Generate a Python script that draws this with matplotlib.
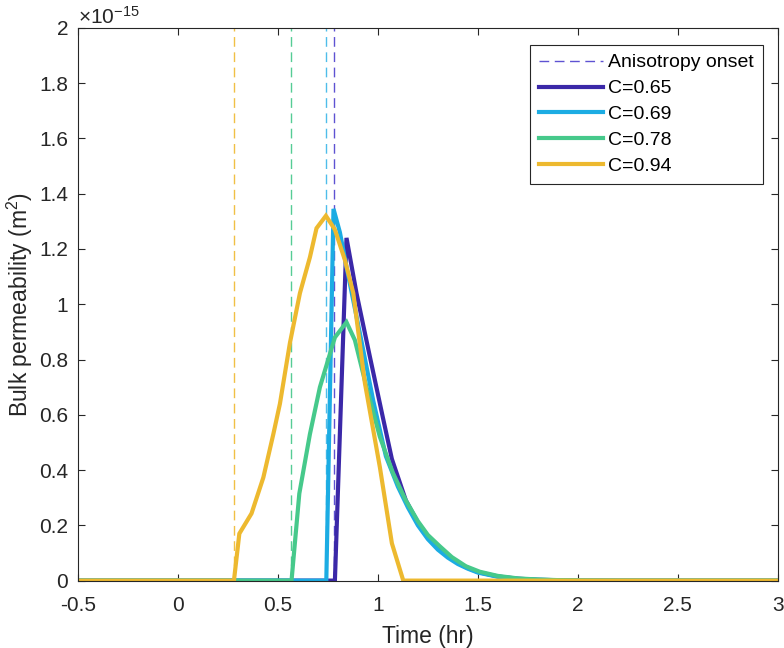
import matplotlib
matplotlib.use('Agg')
import matplotlib.pyplot as plt
import numpy as np

plt.rcParams['font.family'] = ['Liberation Sans', 'DejaVu Sans']
plt.rcParams['mathtext.default'] = 'regular'
plt.rcParams['font.size'] = 15

# permeability in units of 1e-15 m^2, time in hr
t_065 = [-0.5, 0.785, 0.843, 0.893, 0.96, 1.025, 1.07, 1.14, 1.2, 1.25, 1.3, 1.35, 1.4, 1.45, 1.5, 1.6, 1.7, 1.8, 1.9, 2.0, 2.2, 3.0]
k_065 = [0, 0, 1.24, 1.04, 0.81, 0.59, 0.44, 0.29, 0.21, 0.16, 0.122, 0.09, 0.064, 0.046, 0.031, 0.015, 0.007, 0.003, 0.0015, 0.0005, 0, 0]

t_069 = [-0.5, 0.742, 0.778, 0.81, 0.843, 0.91, 0.977, 1.04, 1.1, 1.15, 1.2, 1.25, 1.3, 1.35, 1.4, 1.45, 1.5, 1.6, 1.7, 1.8, 1.9, 2.0, 2.2, 3.0]
k_069 = [0, 0, 1.345, 1.26, 1.135, 0.895, 0.65, 0.45, 0.34, 0.265, 0.2, 0.15, 0.112, 0.083, 0.06, 0.043, 0.029, 0.014, 0.006, 0.003, 0.0012, 0.0005, 0, 0]

t_078 = [-0.5, 0.568, 0.607, 0.66, 0.71, 0.785, 0.843, 0.885, 0.943, 1.01, 1.075, 1.14, 1.2, 1.25, 1.31, 1.37, 1.44, 1.51, 1.6, 1.7, 1.8, 1.9, 2.0, 2.2, 3.0]
k_078 = [0, 0, 0.315, 0.53, 0.70, 0.88, 0.935, 0.87, 0.70, 0.52, 0.39, 0.29, 0.215, 0.165, 0.124, 0.085, 0.052, 0.032, 0.017, 0.008, 0.004, 0.0018, 0.0007, 0, 0]

t_094 = [-0.5, 0.28, 0.307, 0.368, 0.427, 0.477, 0.51, 0.56, 0.61, 0.66, 0.693, 0.74, 0.785, 0.835, 0.877, 0.935, 1.01, 1.07, 1.127, 3.0]
k_094 = [0, 0, 0.17, 0.243, 0.373, 0.53, 0.64, 0.86, 1.04, 1.17, 1.275, 1.32, 1.27, 1.16, 1.04, 0.715, 0.41, 0.135, 0, 0]

onsets = [0.782, 0.74, 0.567, 0.28]
labels = ['C=0.65', 'C=0.69', 'C=0.78', 'C=0.94']
colors = ['#3B28A8', '#1CACE3', '#46C98B', '#EDB92F']
dash_colors = ['#5E52D2', '#4FBDEA', '#56CC95', '#F0C045']

fig = plt.figure(figsize=(7.84, 6.48), dpi=100)
ax = fig.add_axes([0.0995, 0.104, 0.8925, 0.853])

series = [(t_065, k_065), (t_069, k_069), (t_078, k_078), (t_094, k_094)]

for x0, c in zip(onsets, dash_colors):
    ax.axvline(x0, color=c, lw=1.0, ls=(0, (7, 4)), zorder=1)

handles = []
h0, = ax.plot([], [], color=dash_colors[0], lw=1.0, ls=(0, (7, 4)), label='Anisotropy onset')
handles.append(h0)
for (t, k), c, lab in zip(series, colors, labels):
    h, = ax.plot(t, k, color=c, lw=3.0, label=lab, solid_joinstyle='miter', zorder=2)
    handles.append(h)

ax.set_xlim(-0.5, 3)
ax.set_ylim(0, 2)
ax.set_xticks(np.arange(-0.5, 3.01, 0.5))
ax.set_xticklabels(['-0.5', '0', '0.5', '1', '1.5', '2', '2.5', '3'])
ax.set_yticks(np.arange(0, 2.01, 0.2))
ax.set_yticklabels(['0', '0.2', '0.4', '0.6', '0.8', '1', '1.2', '1.4', '1.6', '1.8', '2'])
ax.tick_params(direction='in', top=True, right=True, length=5, width=0.8, colors='#262626', labelsize=15)
ax.tick_params(axis='x', pad=11)
ax.tick_params(axis='y', pad=7)
for s in ax.spines.values():
    s.set_color('#262626')
    s.set_linewidth(0.8)

ax.set_xlabel('Time (hr)', fontsize=16.5, color='#262626', labelpad=7)
ax.set_ylabel('Bulk permeability (m$^2$)', fontsize=16.5, color='#262626', labelpad=3)
ax.text(0.0, 1.001, r'$\times$10$^{-15}$', transform=ax.transAxes, ha='left', va='bottom', fontsize=15, color='#262626')

leg = ax.legend(handles=handles, loc='upper right', bbox_to_anchor=(0.9786, 0.969), borderaxespad=0, fancybox=False,
                edgecolor='#262626', framealpha=1, handlelength=3.3, labelspacing=0.43, borderpad=0.45,
                handletextpad=0.25, fontsize=14)
leg.get_frame().set_linewidth(0.8)

fig.savefig('out.png', dpi=100)
